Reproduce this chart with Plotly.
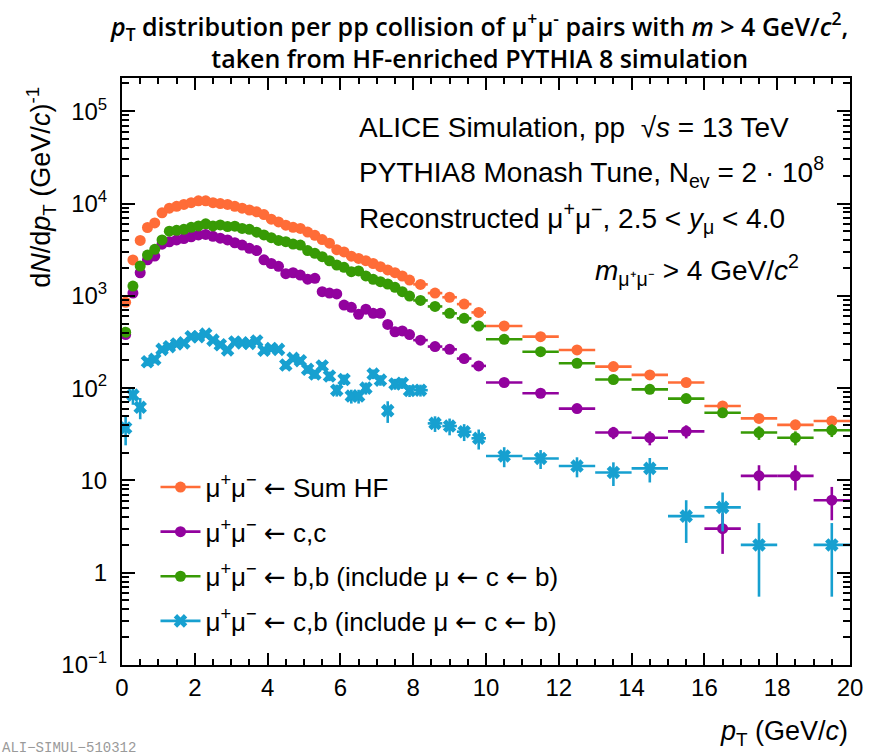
import plotly.graph_objects as go

# ---------------- data ----------------
# bin edges (GeV/c): 0.2 wide up to 8, 0.4 wide up to 10, 1 wide up to 20
bin_edges = [0.0, 0.2, 0.4, 0.6, 0.8, 1.0, 1.2, 1.4, 1.6, 1.8, 2.0, 2.2, 2.4, 2.6, 2.8,
             3.0, 3.2, 3.4, 3.6, 3.8, 4.0, 4.2, 4.4, 4.6, 4.8, 5.0, 5.2, 5.4, 5.6, 5.8,
             6.0, 6.2, 6.4, 6.6, 6.8, 7.0, 7.2, 7.4, 7.6, 7.8, 8.0,
             8.4, 8.8, 9.2, 9.6, 10.0,
             11.0, 12.0, 13.0, 14.0, 15.0, 16.0, 17.0, 18.0, 19.0, 20.0]

sum_hf = [850, 2450, 3980, 5500, 6170, 7940, 8910, 9330, 9770, 10200,
          10700, 10700, 10200, 10000, 9770, 9330, 8910, 8510, 8130, 7590,
          6760, 6310, 5820, 5520, 5370, 4900, 4520, 4070, 3720, 3160,
          2990, 2690, 2540, 2400, 2240, 2070, 1910, 1780, 1640, 1480,
          1330, 1070, 965, 813, 661,
          471, 361, 259, 171, 139, 115, 64, 47, 40, 44]
sum_hf_err = [None] * 40 + [20, 17, 15, 13, 12,
                            12, 10, 9, 7, 6, 6, 4.5, 5, 5, 5]

cc = [380, 1072, 1778, 2455, 2692, 3631, 3846, 4027, 4169, 4365,
      4571, 4624, 4416, 4217, 4027, 3758, 3548, 3273, 3090, 2455,
      2239, 2089, 1738, 1778, 1679, 1514, 1549, 1109, 1072, 1047,
      794, 750, 631, 716, 646, 646, 490, 407, 417, 380,
      331, 282, 263, 209, 174,
      115, 88, 60, 33, 29, 34, 3.0, 11.2, 11.2, 6.1]
cc_err = [None] * 40 + [10, 9, 9, 8, 7,
                        8, 7, 6, 5, 5, 5.5, 1.4, 3.4, 3.4, 2.4]

bb = [403, 1276, 2104, 2767, 3192, 4027, 5012, 5129, 5248, 5521,
      5715, 6026, 5715, 5861, 5623, 5689, 5370, 5248, 4898, 4571,
      4266, 3981, 3855, 3639, 3548, 3090, 2884, 2655, 2399, 2158,
      2037, 1824, 1862, 1641, 1510, 1422, 1343, 1236, 1109, 995,
      891, 767, 646, 570, 471,
      338, 248, 186, 124, 97, 77, 54, 33, 29, 35]
bb_err = [None] * 40 + [15, 13, 12, 11, 10,
                        9, 8, 7, 6, 5, 5, 5, 5.5, 5, 5.5]

cb = [37, 84, 62, 193, 205, 263, 281, 301, 309, 361,
      361, 385, 331, 295, 259, 316, 309, 305, 324, 257,
      269, 263, 178, 210, 198, 160, 142, 174, 135, 95,
      124, 82, 82, 100, 142, 122, 57, 111, 113, 94,
      95, 41.5, 38.8, 33.7, 28.6,
      18.4, 17.3, 14.3, 12.2, 13.5, 4.1, 5.1, 2.0, None, 2.0]
cb_err = [13, 18, 16, 20, 20, 22, 22, 23, 23, 25,
          25, 26, 24, 23, 21, 24, 23, 23, 24, 21,
          22, 21, 18, 19, 19, 17, 16, 18, 16, 14,
          16, 14, 14, 15, 17, 16, 15, 15, 15, 14,
          14, 8, 8, 7, 7,
          4.5, 4, 3.5, 3.5, 4, 2, 2.3, 1.45, None, 1.45]

y_tickvals = [0.1, 1, 10, 100, 1000, 10000, 100000]
y_ticktext = ["10<sup>\u22121</sup>", "1", "10", "10<sup>2</sup>", "10<sup>3</sup>",
              "10<sup>4</sup>", "10<sup>5</sup>"]

ARROW = "<span style=\"font-family:'DejaVu Sans'\">\u2190</span>"
MUMU = "\u03bc<sup>+</sup>\u03bc<sup>\u2212</sup>"
series_names = [
    MUMU + " " + ARROW + " Sum HF",
    MUMU + " " + ARROW + " c,c",
    MUMU + " " + ARROW + " b,b (include \u03bc " + ARROW + " c " + ARROW + " b)",
    MUMU + " " + ARROW + " c,b (include \u03bc " + ARROW + " c " + ARROW + " b)",
]

# ---------------- styling ----------------
ORANGE = "#FF6C37"
PURPLE = "#92029E"
GREEN = "#379A05"
CYAN = "#17A0D0"
FONT = "Liberation Sans"

centers = [(a + b) / 2 for a, b in zip(bin_edges[:-1], bin_edges[1:])]
half_w = [(b - a) / 2 for a, b in zip(bin_edges[:-1], bin_edges[1:])]

fig = go.Figure()

specs = [
    (sum_hf, sum_hf_err, ORANGE, "circle", 11),
    (cc, cc_err, PURPLE, "circle", 11),
    (bb, bb_err, GREEN, "circle", 11),
    (cb, cb_err, CYAN, "x", 12),
]

for (vals, errs, col, sym, sz) in specs:
    fig.add_trace(go.Scatter(
        x=centers, y=vals, mode="markers",
        marker=dict(color=col, symbol=sym, size=sz, line=dict(width=0)),
        error_y=dict(type="data", array=errs, color=col, thickness=2.6, width=0),
        error_x=dict(type="data", array=half_w, color=col, thickness=2.6, width=0),
        showlegend=False, cliponaxis=True,
    ))

for i in range(4):
    vals, errs, col, sym, sz = specs[i]
    fig.add_trace(go.Scatter(
        x=[None], y=[None], mode="lines+markers", name=series_names[i],
        marker=dict(color=col, symbol=sym, size=sz, line=dict(width=0)),
        line=dict(color=col, width=2.6),
        legendgroup=str(i), showlegend=True,
    ))

fig.update_layout(
    width=875, height=756,
    margin=dict(l=122, r=23, t=78, b=91),
    paper_bgcolor="white", plot_bgcolor="white",
    font=dict(family=FONT, color="black", size=22),
    showlegend=True,
    legend=dict(
        x=0.046, y=0.343, xanchor="left", yanchor="top",
        bgcolor="rgba(0,0,0,0)", font=dict(family=FONT, size=26, color="black"),
        tracegroupgap=7.8, itemwidth=40,
    ),
)

fig.update_xaxes(
    range=[0, 20], tick0=0, dtick=2,
    ticks="inside", ticklen=12, tickwidth=1.5, tickcolor="black",
    showline=True, linewidth=2, linecolor="black", mirror="allticks",
    showgrid=False, zeroline=False,
    tickfont=dict(family=FONT, size=24, color="black"),
    minor=dict(ticks="inside", ticklen=6, tickwidth=1.5, tickcolor="black",
               dtick=0.5, showgrid=False),
)

minor_y = [m * 10 ** e for e in range(-1, 6) for m in range(2, 10)]
fig.update_yaxes(
    type="log", range=[-1, 5.36],
    tickvals=y_tickvals, ticktext=y_ticktext,
    ticks="inside", ticklen=13, tickwidth=1.5, tickcolor="black",
    showline=True, linewidth=2, linecolor="black", mirror="allticks",
    showgrid=False, zeroline=False, ticklabelstandoff=8,
    tickfont=dict(family=FONT, size=24, color="black"),
    minor=dict(ticks="inside", ticklen=7, tickwidth=1.5, tickcolor="black",
               tickvals=minor_y, showgrid=False),
)

TFONT = dict(family="Open Sans", size=25, color="black", weight=600)
BFONT = dict(family=FONT, size=28, color="black")
annots = [
    dict(text="<i>p</i><sub>T</sub> distribution per pp collision of \u03bc<sup>+</sup>\u03bc<sup>-</sup> pairs with <i>m</i> > 4 GeV/<i>c</i><sup>2</sup>,"
              "<br>taken from HF-enriched PYTHIA 8 simulation",
         x=0.4904, y=1.0635, xanchor="center", yanchor="middle", font=TFONT),
    dict(text="ALICE Simulation, pp  \u221a<i>s</i> = 13 TeV",
         x=0.3233, y=0.9165, xanchor="left", yanchor="middle", font=BFONT),
    dict(text="PYTHIA8 Monash Tune, N<sub>ev</sub> = 2 \u00b7 10<sup>8</sup>",
         x=0.3233, y=0.8399, xanchor="left", yanchor="middle", font=BFONT),
    dict(text="Reconstructed \u03bc<sup>+</sup>\u03bc<sup>\u2212</sup>, 2.5 < <i>y</i><sub>\u03bc</sub> < 4.0",
         x=0.3233, y=0.7615, xanchor="left", yanchor="middle", font=BFONT),
    dict(text="<i>m</i><sub>\u03bc\u207a\u03bc\u207b</sub> > 4 GeV/<i>c</i><sup>2</sup>",
         x=0.9329, y=0.6729, xanchor="right", yanchor="middle", font=BFONT),
    dict(text="d<i>N</i>/d<i>p</i><sub>T</sub> (GeV/<i>c</i>)<sup>-1</sup>",
         x=-0.1123, y=0.988, xanchor="center", yanchor="top", textangle=-90,
         font=dict(family=FONT, size=27, color="black")),
    dict(text="<i>p</i><sub>T</sub> (GeV/<i>c</i>)",
         x=1.0, y=-0.1158, xanchor="right", yanchor="middle",
         font=dict(family=FONT, size=27, color="black")),
    dict(text="ALI\u2212SIMUL\u2212510312",
         x=-0.167, y=-0.142, xanchor="left", yanchor="middle",
         font=dict(family="Liberation Mono", size=14, color="#9a9a9a")),
]
for a in annots:
    a.update(xref="paper", yref="paper", showarrow=False)
    fig.add_annotation(**a)

fig.write_html("out.html")
